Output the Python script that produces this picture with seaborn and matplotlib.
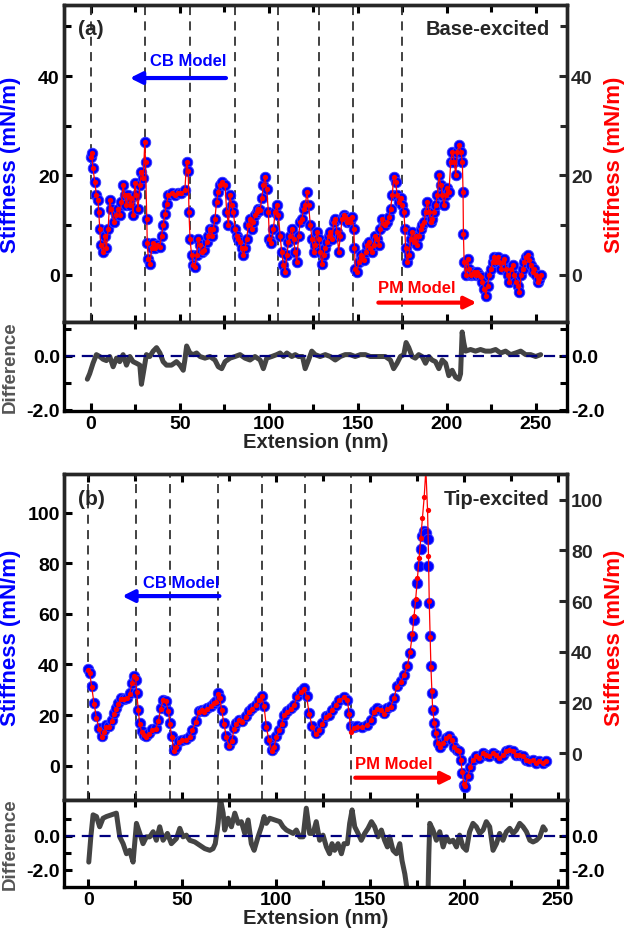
import matplotlib
matplotlib.use("Agg")
import matplotlib.pyplot as plt
from matplotlib.ticker import MultipleLocator, FixedLocator, FormatStrFormatter
import seaborn as sns

# ---------------- panel (a) : base-excited ----------------
ext_a = [0, 0.5, 1.3, 2.3, 3.2, 4.1, 4.5, 5.1, 5.6, 7.0, 7.9, 8.8, 9.8, 10.7, 11.6, 13.1, 14.4, 15.4,
         16.3, 17.3, 18.2, 19.1, 20.1, 21.0, 22.0, 22.9, 23.8, 24.8, 25.7, 26.6, 27.6, 28.5, 29.5, 30.4,
         30.8, 31.5, 31.8, 32.4, 33.3, 34.3, 35.1, 36.1, 37.0, 38.8, 39.8, 40.7, 41.7, 42.6, 43.6, 45.4,
         47.3, 49.2, 51.0, 52.9, 53.9, 54.8, 55.2, 55.8, 56.7, 57.6, 58.6, 59.5, 60.4, 61.4, 62.3, 63.8,
         65.1, 66.1, 67.0, 67.9, 68.9, 69.8, 70.7, 71.7, 72.6, 74.0, 75.5, 76.4, 77.4, 78.3, 79.2, 80.2,
         81.1, 82.0, 83.0, 83.9, 84.8, 85.8, 86.7, 87.6, 88.6, 89.5, 90.5, 91.4, 92.3, 93.3, 94.2, 95.2,
         96.1, 97.0, 98.0, 98.9, 99.8, 100.4, 101.3, 102.7, 103.6, 104.5, 105.5, 106.4, 107.3, 108.3,
         109.2, 110.2, 111.1, 112.0, 113.0, 114.0, 114.9, 115.8, 116.8, 117.7, 118.7, 119.6, 120.6,
         121.5, 122.4, 123.4, 124.3, 125.3, 126.2, 127.1, 128.1, 129.0, 129.9, 130.9, 131.8, 132.8,
         133.7, 134.6, 135.6, 136.5, 137.5, 138.4, 139.3, 140.3, 141.2, 142.2, 143.1, 144.0, 145.0,
         145.9, 146.8, 147.8, 148.2, 148.7, 149.7, 150.6, 151.6, 152.5, 153.4, 154.4, 155.3, 156.3,
         157.2, 158.1, 159.1, 160.0, 160.9, 161.9, 162.8, 163.8, 164.7, 165.6, 166.6, 167.5, 168.5,
         169.4, 170.3, 171.3, 172.2, 173.2, 174.1, 175.0, 176.0, 176.5, 176.9, 177.9, 178.8, 179.7,
         180.7, 181.6, 182.6, 183.5, 184.4, 185.4, 186.3, 187.3, 188.2, 189.1, 190.1, 191.0, 191.9,
         192.9, 193.8, 194.8, 195.7, 196.6, 197.6, 198.5, 199.5, 200.4, 201.3, 202.3, 203.2, 204.2,
         205.1, 206.0, 207.0, 207.9, 208.8, 209.2, 209.4, 209.8, 210.7, 211.7, 212.6, 213.6, 214.5,
         215.4, 216.4, 217.3, 218.3, 219.2, 220.1, 221.1, 222.0, 223.0, 223.9, 224.8, 225.8, 226.7,
         227.7, 228.6, 229.5, 230.5, 231.4, 232.4, 233.3, 234.2, 235.2, 236.1, 237.1, 238.0, 238.9,
         239.9, 240.8, 241.8, 242.7, 243.6, 244.6, 245.5, 246.4, 247.4, 248.3, 249.3, 250.2, 251.1,
         252.1, 253.0]
stiff_a = [23.8, 24.5, 21.4, 18.7, 16.0, 15.0, 12.7, 9.3, 5.9, 4.6, 7.9, 5.3, 9.3, 15.0, 13.3, 10.7, 12.0, 13.3,
           12.0, 14.7, 18.0, 16.0, 14.0, 16.0, 14.0, 15.4, 12.0, 18.4, 16.0, 13.3, 18.0, 20.7, 19.4, 26.8,
           22.8, 11.3, 6.3, 3.2, 2.2, 5.3, 6.3, 5.3, 5.9, 5.6, 7.9, 10.0, 12.3, 14.3, 16.0, 16.4,
           16.0, 16.4, 16.4, 17.0, 22.8, 20.8, 12.7, 7.3, 3.9, 1.9, 1.6, 3.9, 7.3, 5.9, 4.6, 4.9,
           6.6, 7.9, 9.3, 7.9, 9.3, 11.3, 14.7, 16.7, 18.0, 18.7, 18.0, 12.7, 10.0, 16.0, 14.0, 12.7,
           9.3, 7.9, 7.3, 6.6, 5.3, 3.9, 5.3, 7.3, 10.0, 11.3, 9.3, 10.7, 12.0, 12.7, 13.3, 13.0,
           15.4, 18.0, 19.7, 17.3, 12.7, 7.3, 6.3, 9.3, 12.7, 14.0, 12.0, 7.9, 4.6, 1.9,
           0.5, 3.9, 6.6, 7.9, 9.3, 7.2, 4.5, 2.6, 7.9, 10.6, 11.3, 13.3, 14.0,
           16.7, 14.0, 10.0, 7.3, 4.6, 5.9, 8.6, 7.3, 4.6, 2.2, 3.9, 5.3, 6.6,
           7.9, 8.6, 7.3, 10.6, 11.3, 8.6, 4.6, 7.9, 11.3, 12.0, 11.6, 10.6, 11.3,
           10.6, 11.6, 9.3, 5.3, 1.2, 0.5, 2.6, 3.9, 3.2, 2.9, 4.6, 5.9, 6.6,
           5.3, 4.6, 5.9, 7.9, 7.3, 5.9, 9.3, 11.3, 10.3, 10.0, 10.6, 11.6, 13.3,
           16.0, 19.7, 18.7, 16.0, 14.7, 15.4, 14.0, 12.7, 9.3, 5.3, 2.6, 3.9, 7.3,
           8.6, 6.6, 7.9, 5.9, 7.9, 9.3, 10.0, 10.6, 12.7, 14.7, 12.7, 10.6, 11.3,
           12.7, 14.0, 16.0, 20.1, 18.1, 16.0, 14.0, 16.0, 17.4, 16.7, 22.8, 24.8, 22.8,
           20.1, 24.8, 26.1, 24.8, 22.8, 16.7, 8.3, 2.6, -0.1, 3.2, 1.2, -0.1, 0.2,
           0.6, -0.1, 0.6, -0.1, -0.5, -1.5, -2.8, -4.2, -2.2, -0.1, 1.2, 2.6, 3.6,
           2.6, 3.6, 2.6, 1.2, 2.6, 3.2, 1.2, -0.1, -1.5, 1.2, 1.9, -0.1, -1.5,
           -2.2, -3.5, -0.1, 1.2, 2.6, 3.6, 3.9, 2.9, 1.9, 0.6, 1.2, -0.1, -1.5,
           -0.8, -0.1]

ext_diff_a = [-1.9, -0.6, 1.3, 3.2, 5.1, 6.9, 8.8, 10.7, 12.6, 14.5, 16.3, 18.2, 20.1, 22.0, 23.8, 25.7,
              27.6, 28.5, 29.5, 31.3, 33.2, 35.1, 37.0, 38.9, 40.7, 42.6, 45.4, 48.2, 50.1, 52.0, 52.9,
              53.9, 55.7, 57.6, 59.5, 61.4, 64.2, 67.0, 69.8, 71.7, 73.6, 75.5, 78.3, 81.1, 83.9, 86.7,
              89.5, 92.3, 95.2, 97.0, 98.9, 101.7, 104.5, 106.4, 108.3, 110.2, 113.0, 114.9, 116.7,
              119.0, 120.5, 122.4, 124.2, 126.1, 128.9, 131.8, 134.6, 137.4, 140.2, 143.0, 145.8,
              148.6, 151.5, 154.3, 157.1, 159.9, 162.7, 165.5, 168.4, 170.2, 172.1, 174.0, 175.9,
              177.2, 178.7, 180.6, 182.4, 184.3, 186.2, 188.1, 190.0, 191.8, 193.7, 195.6, 197.5,
              199.4, 201.2, 203.1, 205.0, 206.9, 207.8, 208.7, 209.6, 210.6, 213.4, 216.2, 219.0,
              221.8, 224.7, 227.5, 230.3, 233.1, 235.9, 238.7, 241.6, 244.4, 247.2, 250.0, 252.8]
diff_a = [-0.87, -0.67, -0.28, 0.04, -0.03, -0.13, -0.18, -0.03, -0.41, -0.09, -0.22, 0.04, -0.35, -0.03,
          -0.22, -0.28, -0.35, -1.06, -0.67, 0.04, -0.03, 0.17, 0.30, 0.10, -0.22, -0.35, -0.35, -0.22,
          -0.35, -0.54, -0.16, 0.36, 0.10, 0.04, 0.10, -0.03, -0.09, -0.03, -0.16, -0.41, -0.48, -0.22,
          -0.09, -0.03, 0.04, -0.09, -0.16, -0.03, -0.16, -0.48, -0.09, -0.03, 0.04, 0.10, -0.03, 0.10,
          -0.03, 0.04, -0.03, -0.03, -0.48, -0.16, 0.17, 0.04, -0.03, 0.04, -0.03, -0.16, -0.03, 0.04,
          0.04, -0.03, 0.04, 0.04, -0.03, -0.03, -0.03, -0.03, -0.16, -0.48, -0.28, -0.03, 0.04, 0.49,
          0.30, -0.03, -0.09, 0.04, -0.03, -0.28, -0.03, -0.16, -0.22, -0.48, -0.16, -0.28, -0.74,
          -0.54, -0.80, -0.87, -0.67, 0.88, 0.49, 0.17, 0.23, 0.17, 0.23, 0.17, 0.17, 0.23, 0.10, 0.17,
          0.04, 0.10, 0.17, 0.04, 0.04, -0.03, 0.04]
dividers_a = [0, 30.5, 55.7, 80.8, 105.0, 128.2, 147.6, 175.1]

# ---------------- panel (b) : tip-excited ----------------
ext_b = [0, 0.7, 1.8, 3.0, 4.3, 5.7, 7.1, 8.3, 9.6, 11.0, 12.4, 13.7, 14.9, 16.0, 17.2, 19.0, 20.8, 22.0,
         23.1, 24.3, 25.2, 25.7, 26.6, 27.3, 28.4, 29.7, 30.9, 32.3, 34.1, 35.9, 37.3, 38.5, 40.0, 41.2,
         42.6, 43.5, 44.4, 45.6, 46.9, 48.3, 50.1, 52.2, 54.0, 55.4, 57.2, 59.0, 60.4, 61.8, 63.4, 65.2,
         67.0, 68.2, 69.3, 70.0, 71.0, 72.3, 73.5, 74.9, 76.4, 77.6, 78.9, 80.3, 82.1, 83.8, 85.6, 87.4,
         89.2, 90.9, 92.3, 93.6, 94.8, 96.2, 97.7, 98.9, 100.2, 101.6, 103.0, 104.2, 106.0, 107.8, 109.6,
         111.3, 113.1, 114.9, 116.3, 117.6, 119.3, 121.1, 122.9, 124.6, 126.4, 128.2, 130.0, 131.7,
         133.5, 136.2, 138.0, 138.9, 139.8, 141.6, 143.3, 146.0, 148.6, 150.4, 152.2, 154.0, 155.8,
         157.5, 159.3, 161.1, 162.8, 164.3, 166.4, 168.2, 170.0, 171.4, 172.6, 173.5, 174.4, 175.3,
         176.2, 177.1, 178.0, 178.9, 179.8, 180.7, 181.2, 181.6, 182.1, 182.5, 183.0, 183.4, 184.3,
         185.2, 186.1, 187.5, 188.7, 190.5, 192.3, 193.5, 195.0, 196.4, 197.6, 198.5, 199.1, 200.0,
         200.8, 202.1, 203.5, 204.8, 206.5, 208.3, 210.1, 211.8, 213.6, 215.4, 217.1, 218.9, 220.7,
         222.5, 224.2, 226.0, 227.8, 229.6, 231.3, 233.1, 234.9, 236.7, 238.4, 240.2, 242.0, 243.8]
stiff_b_cb = [38.3, 36.7, 31.4, 24.8, 19.5, 14.9, 11.6, 14.2, 16.2, 15.6, 18.2, 20.9, 22.8, 24.8, 26.8, 26.4,
              26.8, 28.8, 32.8, 35.6, 34.0, 28.8, 22.2, 16.9, 13.6, 12.3, 11.6, 13.0, 14.5, 14.9, 18.2,
              22.8, 26.1, 25.5, 21.5, 16.9, 11.6, 6.3, 7.6, 9.6, 10.2, 10.5, 11.6, 14.2, 17.5, 21.5,
              22.2, 21.5, 22.8, 23.7, 24.8, 25.5, 28.8, 26.8, 22.2, 16.9, 11.6, 8.3, 10.2, 14.9, 16.9,
              18.2, 17.5, 19.5, 21.5, 22.8, 24.2, 26.1, 27.4, 23.5, 15.6, 10.2, 6.3, 7.6, 11.6, 14.2,
              16.9, 20.2, 21.5, 22.8, 24.2, 27.4, 29.5, 30.7, 27.4, 20.8, 15.6, 12.9, 14.2, 16.9, 19.5,
              20.2, 22.2, 24.2, 26.1, 27.2, 26.1, 20.8, 15.6, 15.3, 15.6, 15.3, 16.2, 18.2, 21.5, 22.8,
              22.2, 20.8, 22.8, 23.5, 26.8, 31.4, 33.4, 36.0, 39.3, 44.6, 51.2, 57.7, 64.3, 72.3, 78.9,
              85.5, 90.7, 92.7, 92.1, 89.4, 78.9, 64.3, 51.2, 39.3, 28.8, 22.2, 16.9, 12.9, 9.0, 7.6,
              9.0, 11.0, 11.6, 10.3, 7.6, 6.3, 5.7, 2.4, -2.9, -7.5, -8.2, -4.2, -0.3, 2.4, 3.7, 3.0,
              5.0, 4.3, 3.7, 5.0, 4.3, 3.0, 4.3, 5.7, 6.1, 5.7, 4.3, 4.3, 3.7, 2.4, 1.7, 2.1, 1.3, 1.7,
              1.3, 1.7]
stiff_b_pm = [33.0, 31.5, 26.0, 19.5, 14.0, 9.5, 6.2, 8.5, 10.5, 10.3, 12.8, 15.5, 17.5, 19.5, 21.5, 21.2,
              21.6, 23.5, 27.5, 30.5, 29.5, 24.0, 17.0, 11.5, 8.3, 7.0, 6.3, 7.6, 9.2, 9.6, 12.8,
              17.5, 20.8, 20.5, 16.5, 11.5, 6.2, 1.0, 2.4, 4.4, 5.0, 5.3, 6.4, 9.0, 12.3, 16.3,
              17.0, 16.3, 17.6, 18.5, 19.6, 20.3, 23.5, 21.8, 17.0, 11.5, 6.2, 3.0, 4.8, 9.6, 11.6,
              13.0, 12.3, 14.3, 16.3, 17.6, 19.0, 21.0, 22.4, 18.5, 10.4, 5.0, 1.0, 2.4, 6.4, 9.0,
              11.7, 15.0, 16.3, 17.6, 19.0, 22.2, 24.3, 25.5, 22.2, 15.6, 10.4, 7.6, 9.0, 11.7, 14.3,
              15.0, 17.0, 19.0, 21.0, 22.2, 21.0, 15.6, 8.5, 10.0, 10.4, 10.2, 11.0, 13.0, 16.3, 17.6,
              17.0, 15.6, 17.6, 18.3, 21.6, 26.2, 28.2, 30.8, 34.5, 40.0, 47.0, 54.0, 61.0, 69.0, 77.0,
              85.0, 93.0, 101.0, 112.0, 96.0, 78.0, 60.0, 46.0, 34.0, 24.5, 17.5, 12.0, 8.0, 4.0, 2.6,
              4.0, 6.0, 6.6, 5.3, 2.6, 1.3, 0.7, -2.6, -7.5, -12.0, -13.0, -9.2, -5.3, -2.6, -1.3, -2.0,
              0.0, -0.7, -1.3, 0.0, -0.7, -2.0, -0.7, 0.7, 1.1, 0.7, -0.7, -0.7, -1.3, -2.6, -3.3, -2.9,
              -3.7, -3.3, -3.7, -3.3]

ext_diff_b = [0.2, 1.3, 2.5, 4.3, 6.0, 7.8, 9.6, 12.3, 14.9, 16.7, 18.5, 20.3, 22.0, 23.8, 25.6, 27.4, 29.1,
              30.9, 32.7, 34.5, 36.2, 38.0, 39.8, 42.1, 44.2, 46.9, 48.7, 50.4, 52.2, 54.0, 56.7, 59.3,
              62.0, 64.7, 66.4, 67.6, 69.1, 70.3, 71.8, 72.6, 74.4, 76.2, 78.0, 79.8, 81.5, 83.3, 85.1,
              86.8, 88.3, 90.4, 92.2, 93.6, 94.8, 96.6, 99.3, 102.0, 103.7, 105.5, 107.3, 109.1, 110.8,
              112.6, 114.4, 116.1, 117.9, 119.7, 121.4, 123.2, 125.0, 126.8, 128.5, 129.8, 131.2, 133.0,
              134.8, 136.2, 138.0, 139.2, 140.5, 141.9, 143.7, 145.4, 147.2, 149.0, 150.8, 152.5, 154.3,
              156.1, 157.8, 159.3, 160.5, 162.3, 164.1, 165.9, 167.1, 168.6, 170.4, 175.0, 180.9, 181.4,
              181.9, 183.6, 185.4, 187.2, 189.0, 190.7, 192.5, 194.3, 196.1, 197.8, 199.6, 201.4, 203.1,
              204.9, 206.7, 208.5, 210.3, 212.0, 213.8, 215.6, 217.4, 219.1, 220.9, 222.7, 224.5, 226.3,
              228.0, 229.8, 231.6, 233.4, 235.2, 236.9, 238.7, 240.5, 242.3, 243.5]
diff_b = [-1.54, -0.06, 1.23, 1.13, 0.53, 1.03, 1.13, 1.23, 1.33, -0.06, -0.46, -1.05, -0.85, -1.54, 0.73,
          0.14, -0.46, -0.06, -0.06, 0.24, -0.26, 0.53, -0.26, 0.14, -0.46, -0.16, 0.44, -0.06, 0.04,
          -0.26, -0.36, -0.55, -0.75, -0.85, -0.75, -0.46, 0.73, 2.2, 1.33, 0.34, 1.03, 0.53, 1.33,
          0.73, 0.83, 0.14, 0.93, -0.46, -0.85, -0.06, 0.53, 1.13, 0.73, 1.03, 0.93, 0.83, 0.53, 0.34,
          0.24, 0.14, 0.34, -0.06, -0.06, 1.62, 0.14, 0.14, 0.83, -0.26, 0.04, -0.65, -1.05, -0.46,
          -0.85, -0.46, -1.05, -0.46, -0.46, 0.73, 1.52, 0.53, 0.14, -0.26, 0.14, 0.44, 0.83, 0.53,
          -0.06, 0.34, -0.26, -0.65, -0.06, -0.85, -1.05, -0.46, -1.45, -2.24, -3.6, -5.0, -3.6, -1.05,
          0.73, 0.34, -0.26, 0.24, -0.65, -0.06, -0.36, -0.26, -0.65, 0.04, -0.65, -0.85, 0.24,
          0.73, 0.53, 0.14, 0.34, 0.83, 0.53, -0.85, -0.46, 0.14, -0.26, 0.24, 0.44, 0.14, 0.34, 0.73,
          0.53, 0.24, -0.26, -0.36, -0.26, -0.06, 0.53, 0.34]
dividers_b = [0, 25.2, 43.5, 69.3, 92.7, 115.6, 140.0]

# ---------------- style ----------------
sns.set_style("ticks")
plt.rcParams['font.family'] = ['Liberation Sans', 'DejaVu Sans']
plt.rcParams['font.weight'] = 'bold'
plt.rcParams['axes.labelweight'] = 'bold'

fig = plt.figure(figsize=(6.26, 9.37), dpi=100)

L, W = 64 / 626, 503 / 626


def box(top, bottom):
    return [L, 1 - bottom / 937, W, (bottom - top) / 937]


def style(ax, labels_x=False):
    for s in ax.spines.values():
        s.set_linewidth(2.4)
        s.set_color('black')
    ax.tick_params(which='both', direction='in', width=2.2, top=True, right=True,
                   labelsize=14, pad=3, colors='black')
    ax.tick_params(which='major', length=6)
    ax.tick_params(which='minor', length=5)
    ax.xaxis.set_major_locator(MultipleLocator(50))
    ax.xaxis.set_minor_locator(MultipleLocator(25))
    ax.tick_params(axis='x', labelbottom=labels_x)


def panel(top, bottom, dtop, dbottom, ext, cb, ext_pm, pm, ext_d, diff, dividers,
          xlim, ylim, ylim_r, dylim, yticks, yminor, tag, title, cb_arrow, pm_arrow):
    ax = fig.add_axes(box(top, bottom))
    axd = fig.add_axes(box(dtop, dbottom))
    style(ax)
    style(axd, labels_x=True)
    axd.tick_params(top=False)

    for d in dividers:
        ax.axvline(d, color='#333333', lw=1.3, ls=(0, (5, 3.5)), zorder=1)

    # CB model stiffness: big blue circles on the left axis
    sns.scatterplot(x=ext, y=cb, ax=ax, color='#0000ff', s=58, edgecolor='#3c3cff',
                    linewidth=0.6, zorder=3, legend=False)

    # PM model stiffness: small red dots joined by a line, right axis
    axr = ax.twinx()
    sns.lineplot(x=ext_pm, y=pm, ax=axr, color='red', lw=0.9, marker='o', markersize=3.8,
                 markeredgewidth=0, estimator=None, sort=False, legend=False)

    ax.set_xlim(*xlim)
    ax.set_ylim(*ylim)
    axr.set_ylim(*ylim_r)
    ax.yaxis.set_major_locator(FixedLocator(yticks))
    axr.yaxis.set_major_locator(FixedLocator(yticks))
    if yminor:
        ax.yaxis.set_minor_locator(MultipleLocator(yminor))
        axr.yaxis.set_minor_locator(MultipleLocator(yminor))
    for s in axr.spines.values():
        s.set_linewidth(2.4)
    axr.tick_params(which='both', direction='in', width=2.2, labelsize=14, pad=3)
    axr.tick_params(which='major', length=6)
    axr.tick_params(which='minor', length=5)
    ax.tick_params(axis='y', right=False)

    ax.set_xlabel('')
    ax.set_ylabel('Stiffness (mN/m)', color='blue', fontsize=16, fontweight='bold')
    ax.yaxis.set_label_coords(-0.085, 0.5)
    axr.set_ylabel('Stiffness (mN/m)', color='red', fontsize=16, fontweight='bold')
    axr.yaxis.set_label_coords(1.074, 0.5)

    ax.text(0.028, 0.925, tag, transform=ax.transAxes, fontsize=15, fontweight='bold',
            ha='left', va='center')
    ax.text(0.965, 0.925, title, transform=ax.transAxes, fontsize=14.5, fontweight='bold',
            ha='right', va='center')

    (cx0, cx1, cy, cty) = cb_arrow
    ax.annotate('', xy=(cx0, cy), xytext=(cx1, cy),
                arrowprops=dict(arrowstyle='-|>,head_length=0.7,head_width=0.35', color='blue',
                                lw=3, shrinkA=0, shrinkB=0))
    ax.text(cx1, cty, 'CB Model', color='blue', fontsize=12, fontweight='bold',
            ha='right', va='center')
    (px0, px1, py, pty) = pm_arrow
    ax.annotate('', xy=(px1, py), xytext=(px0, py),
                arrowprops=dict(arrowstyle='-|>,head_length=0.7,head_width=0.35', color='red',
                                lw=3, shrinkA=0, shrinkB=0))
    ax.text(px0, pty, 'PM Model', color='red', fontsize=12, fontweight='bold',
            ha='left', va='center')

    sns.lineplot(x=ext_d, y=diff, ax=axd, color='#444444', lw=3.6, estimator=None,
                 sort=False, legend=False)
    axd.axhline(0, color='#000080', lw=1.6, ls=(0, (5, 3)))
    axd.set_xlim(*xlim)
    axd.set_ylim(*dylim)
    axd.yaxis.set_major_locator(FixedLocator([-2, 0]))
    axd.yaxis.set_minor_locator(FixedLocator([-1, 1]))
    axd.yaxis.set_major_formatter(FormatStrFormatter('%.1f'))
    axd.tick_params(axis='y', labelright=True)
    axd.set_ylabel('Difference', color='#555555', fontsize=13.5, fontweight='bold')
    axd.yaxis.set_label_coords(-0.09, 0.5)
    axd.set_xlabel('Extension (nm)', fontsize=14.5, fontweight='bold', labelpad=0)
    return ax, axd


panel(6, 323, 323, 412, ext_a, stiff_a, ext_a, stiff_a, ext_diff_a, diff_a, dividers_a,
      (-15, 267.6), (-9.5, 54.3), (-9.5, 54.3), (-2.05, 1.25), [0, 20, 40], 10,
      '(a)', 'Base-excited', (22, 76, 39.6, 43.2), (161.6, 216.8, -5.6, -2.6))

panel(475, 801, 801, 888, ext_b, stiff_b_cb, ext_b, stiff_b_pm, ext_diff_b, diff_b, dividers_b,
      (-13, 255), (-13.5, 115.2), (-18.5, 110.2), (-3.0, 2.1), [0, 20, 40, 60, 80, 100], None,
      '(b)', 'Tip-excited', (18, 69.8, 67, 72.5), (142.2, 194.5, -4.7, 0.8))

fig.savefig('out.png', dpi=100)
